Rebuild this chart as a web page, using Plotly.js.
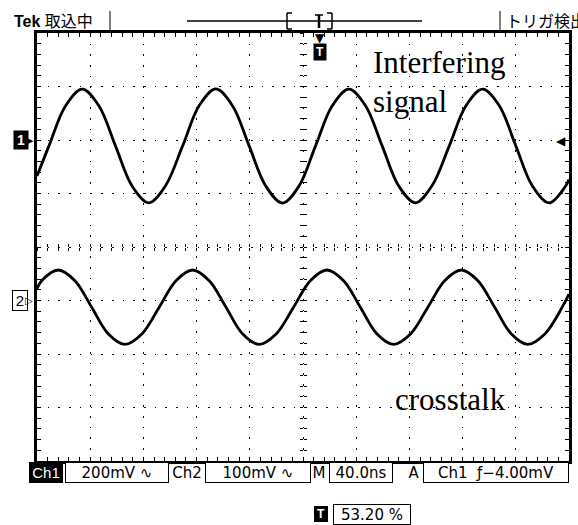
<!DOCTYPE html>
<html>
<head>
<meta charset="utf-8">
<script src="https://cdn.plot.ly/plotly-3.0.1.min.js"></script>
<style>html,body{margin:0;padding:0;background:#fff;}#chart{width:578px;height:525px;}</style>
</head>
<body>
<div id="chart"></div>
<script>
// Time axis in ns (10 divisions x 40 ns), channel values in mV
const ch1Time = [0, 9, 21.5, 34, 46.5, 59, 71.5, 84, 96.5, 109.5, 122, 134.5, 147, 159.5, 172, 184.5, 197, 209.5, 222, 234.5, 247, 259.5, 272, 284.5, 297, 310, 322.5, 335, 347.5, 360, 372.5, 385, 397.5, 400];
const ch1Volts = [-135, -22, 128, 190, 128, -22, -172, -235, -172, -22, 129, 191, 128, -22, -172, -236, -172, -21, 128, 190, 128, -22, -172, -235, -171, -22, 128, 190, 129, -22, -172, -235, -172, -148];
const ch2Time = [0, 3.5, 16, 28.5, 41, 53.5, 66, 79, 92, 104.5, 117, 129.5, 142, 154.5, 167, 180, 193, 205.5, 218, 230.5, 243, 255.5, 268, 281, 294, 306.5, 319, 331.5, 344, 356.5, 369, 382, 395, 400];
const ch2Volts = [22, 37, 57, 37, -12, -62, -82, -62, -12, 37, 57, 37, -12, -62, -82, -62, -12, 37, 57, 37, -12, -62, -82, -62, -12, 37, 57, 37, -12, -62, -82, -62, -12, 12];

const ch1Scale = 200, ch2Scale = 100;   // mV/div
const ch1Pos = 2, ch2Pos = -1;          // ground marker position, div from centre
const timePerDiv = 40;                  // ns/div
const triggerPct = 53.20;
const triggerLevel = -4.00;             // mV

const statusTop = {tek: 'Tek', state: '取込中', trig: 'トリガ検出'};
const statusBottom = ['Ch1', '200mV ∿', 'Ch2', '100mV ∿', 'M', '40.0ns', 'A', 'Ch1  ƒ−4.00mV'];
const labels = {interf: 'Interfering', signal: 'signal', cross: 'crosstalk'};

// geometry helpers (pixels -> paper)
const L = 37, R = 9, T = 33, B = 64, W = 578, H = 525;
const pw = W - L - R, ph = H - T - B;
const px = x => (x - L) / pw;
const py = y => (H - B - y) / ph;

const tMax = 10 * timePerDiv;
const ch1Range = [(-4 - ch1Pos) * ch1Scale, (4 - ch1Pos) * ch1Scale];
const ch2Range = [(-4 - ch2Pos) * ch2Scale, (4 - ch2Pos) * ch2Scale];

const mainAxisX = {
  range: [0, tMax], tick0: 0, dtick: timePerDiv,
  showgrid: true, gridcolor: '#000', gridwidth: 1, griddash: '1.6px,9.04px',
  ticks: 'inside', ticklen: 4, tickwidth: 1, tickcolor: '#000',
  minor: {dtick: timePerDiv / 5, ticks: 'inside', ticklen: 3, tickwidth: 1, tickcolor: '#000', showgrid: false},
  showticklabels: false, zeroline: false,
  showline: true, linecolor: '#000', linewidth: 3, mirror: 'allticks', fixedrange: true
};
const mainAxisY = Object.assign({}, mainAxisX, {
  range: ch1Range, dtick: ch1Scale, griddash: '1.6px,9.1px',
  minor: {dtick: ch1Scale / 5, ticks: 'inside', ticklen: 3, tickwidth: 1, tickcolor: '#000', showgrid: false}
});
function centreX(side) {
  return {overlaying: 'x', anchor: 'free', position: 0.5, range: [0, tMax], tick0: 0, dtick: timePerDiv,
    ticks: side, ticklen: 3, tickwidth: 1, tickcolor: '#000',
    minor: {dtick: timePerDiv / 5, ticks: side, ticklen: 3, tickwidth: 1, tickcolor: '#000', showgrid: false},
    showgrid: false, zeroline: false, showline: false, showticklabels: false, fixedrange: true};
}
function centreY(side) {
  return {overlaying: 'y', anchor: 'free', position: 0.5, range: [-4, 4], tick0: 0, dtick: 1,
    ticks: side, ticklen: 3, tickwidth: 1, tickcolor: '#000',
    minor: {dtick: 0.2, ticks: side, ticklen: 3, tickwidth: 1, tickcolor: '#000', showgrid: false},
    showgrid: false, zeroline: false, showline: false, showticklabels: false, fixedrange: true};
}

const traces = [
  {x: ch1Time, y: ch1Volts, xaxis: 'x', yaxis: 'y', mode: 'lines', line: {color: '#000', width: 2.8, shape: 'spline'}, hoverinfo: 'skip'},
  {x: ch2Time, y: ch2Volts, xaxis: 'x', yaxis: 'y2', mode: 'lines', line: {color: '#000', width: 2.8, shape: 'spline'}, hoverinfo: 'skip'},
  {x: [], y: [], xaxis: 'x2', yaxis: 'y', mode: 'lines'},
  {x: [], y: [], xaxis: 'x3', yaxis: 'y', mode: 'lines'},
  {x: [], y: [], xaxis: 'x', yaxis: 'y3', mode: 'lines'},
  {x: [], y: [], xaxis: 'x', yaxis: 'y4', mode: 'lines'}
];

const sans = 'Liberation Sans, Noto Sans CJK JP, sans-serif';
const mono = 'DejaVu Sans, sans-serif';
const serif = 'Liberation Serif, Times New Roman, serif';
const trigT = tMax * triggerPct / 100;

function boxAnn(text, cx, cy, w, opts) {
  return Object.assign({text: text, xref: 'paper', yref: 'paper', x: px(cx), y: py(cy), xanchor: 'center', yanchor: 'middle',
    showarrow: false, font: {family: mono, size: 15, color: '#000'}, width: w, height: 17,
    bordercolor: '#000', borderwidth: 1, borderpad: 1, bgcolor: '#fff'}, opts || {});
}

const annotations = [
  {text: '<b>' + statusTop.tek + '</b> ' + statusTop.state, xref: 'paper', yref: 'paper', x: px(12), y: py(21), xanchor: 'left', yanchor: 'middle', showarrow: false, font: {family: sans, size: 16, color: '#000'}},
  {text: statusTop.trig, xref: 'paper', yref: 'paper', x: px(504), y: py(21), xanchor: 'left', yanchor: 'middle', showarrow: false, font: {family: sans, size: 16, color: '#000'}},
  {text: labels.interf, xref: 'paper', yref: 'paper', x: px(371), y: py(63), xanchor: 'left', yanchor: 'middle', showarrow: false, font: {family: serif, size: 31, color: '#000'}},
  {text: labels.signal, xref: 'paper', yref: 'paper', x: px(371), y: py(101), xanchor: 'left', yanchor: 'middle', showarrow: false, font: {family: serif, size: 31, color: '#000'}},
  {text: labels.cross, xref: 'paper', yref: 'paper', x: px(393), y: py(399), xanchor: 'left', yanchor: 'middle', showarrow: false, font: {family: serif, size: 31, color: '#000'}},
  // channel ground markers
  {text: '<b>1</b>', xref: 'paper', yref: 'y', x: 0, y: 0, xanchor: 'right', yanchor: 'middle', xshift: -8, showarrow: false, bgcolor: '#000', borderpad: 1, width: 12, font: {family: sans, size: 14, color: '#fff'}},
  {text: '▶', xref: 'paper', yref: 'y', x: 0, y: 0, xanchor: 'right', yanchor: 'middle', xshift: -1, showarrow: false, font: {family: mono, size: 11, color: '#000'}},
  {text: '2', xref: 'paper', yref: 'y2', x: 0, y: 0, xanchor: 'right', yanchor: 'middle', xshift: -9, showarrow: false, bgcolor: '#fff', bordercolor: '#000', borderwidth: 1, borderpad: 1, width: 12, font: {family: sans, size: 15, color: '#000'}},
  {text: '▷', xref: 'paper', yref: 'y2', x: 0, y: 0, xanchor: 'right', yanchor: 'middle', xshift: -2, showarrow: false, font: {family: mono, size: 10, color: '#000'}},
  {text: '◀', xref: 'paper', yref: 'y', x: 1, y: triggerLevel, xanchor: 'right', yanchor: 'middle', xshift: -1, showarrow: false, font: {family: mono, size: 12, color: '#000'}},
  // trigger position
  {text: '▼', xref: 'x', yref: 'paper', x: trigT, y: 1, xanchor: 'center', yanchor: 'top', yshift: 4, showarrow: false, font: {family: mono, size: 12, color: '#000'}},
  {text: '<b>T</b>', xref: 'x', yref: 'paper', x: trigT, y: 1, xanchor: 'center', yanchor: 'top', yshift: -10, showarrow: false, bgcolor: '#000', borderpad: 1, width: 10, font: {family: sans, size: 12, color: '#fff'}},
  // bottom status
  boxAnn(statusBottom[0], 46, 473, 30, {bgcolor: '#000', bordercolor: '#000', font: {family: sans, size: 15, color: '#fff'}}),
  boxAnn(statusBottom[1], 117, 473, 100),
  boxAnn(statusBottom[2], 187, 473, 30, {borderwidth: 0, bgcolor: 'rgba(0,0,0,0)'}),
  boxAnn(statusBottom[3], 258, 473, 102),
  boxAnn(statusBottom[4], 319, 473, 12, {borderwidth: 0, bgcolor: 'rgba(0,0,0,0)'}),
  boxAnn(statusBottom[5], 361, 473, 60),
  boxAnn(statusBottom[6], 414, 473, 12, {borderwidth: 0, bgcolor: 'rgba(0,0,0,0)'}),
  boxAnn(statusBottom[7], 496, 473, 142),
  boxAnn('<b>T</b>', 321, 514, 10, {bgcolor: '#000', font: {family: sans, size: 12, color: '#fff'}, height: 12}),
  boxAnn(triggerPct.toFixed(2) + ' %', 372, 514, 74)
];

const ln = (x0, y0, x1, y1, w) => ({type: 'line', xref: 'paper', yref: 'paper', x0: px(x0), y0: py(y0), x1: px(x1), y1: py(y1), line: {color: '#000', width: w || 1}});
const shapes = [
  ln(110, 11, 110, 30), ln(500, 11, 500, 30),
  ln(187, 21, 422, 21, 1.5),
  ln(287, 13, 287, 29, 1.5), ln(287, 13, 292, 13, 1.5), ln(287, 29, 292, 29, 1.5),
  ln(332, 13, 332, 29, 1.5), ln(327, 13, 332, 13, 1.5), ln(327, 29, 332, 29, 1.5),
  ln(315, 15, 323, 15, 1.5), ln(319, 15, 319, 28, 2.5)
];

const layout = {
  width: W, height: H, margin: {l: L, r: R, t: T, b: B, pad: 0},
  paper_bgcolor: '#fff', plot_bgcolor: '#fff', showlegend: false,
  xaxis: mainAxisX,
  yaxis: mainAxisY,
  yaxis2: {overlaying: 'y', range: ch2Range, showgrid: false, zeroline: false, showticklabels: false, ticks: '', showline: false, fixedrange: true},
  xaxis2: centreX('outside'),
  xaxis3: centreX('inside'),
  yaxis3: centreY('outside'),
  yaxis4: centreY('inside'),
  annotations: annotations,
  shapes: shapes
};

Plotly.newPlot('chart', traces, layout, {staticPlot: true, displayModeBar: false});
</script>
</body>
</html>
